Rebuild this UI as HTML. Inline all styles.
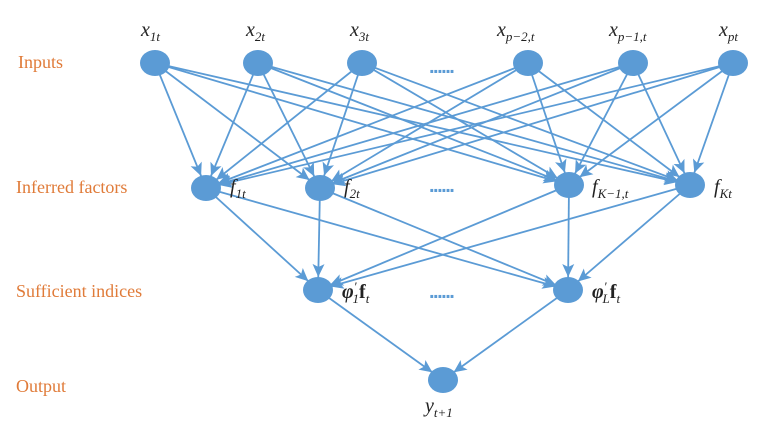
<!DOCTYPE html>
<html><head><meta charset="utf-8"><style>
html,body{margin:0;padding:0;background:#fff;}
svg{display:block;}
.lab{font-family:"Liberation Serif",serif;font-size:18px;fill:#E07B39;}
.m{font-family:"Liberation Serif",serif;font-style:italic;font-size:20px;fill:#222;}
.s{font-size:13px;}
</style></head><body>
<svg width="762" height="426" viewBox="0 0 762 426">
<defs>
<marker id="a" markerUnits="userSpaceOnUse" viewBox="-28 -7 32 14" refX="0" refY="0" markerWidth="32" markerHeight="14" orient="auto" overflow="visible">
<path d="M-26,-6 L-13,0 L-26,6 L-23,0 z" fill="#5B9BD5"/>
</marker>
</defs>
<text class="lab" x="18" y="68">Inputs</text>
<text class="lab" x="16" y="193">Inferred factors</text>
<text class="lab" x="16" y="297">Sufficient indices</text>
<text class="lab" x="16" y="392">Output</text>
<g stroke="#5B9BD5" stroke-width="1.8" fill="none" marker-end="url(#a)">
<path d="M155,63 L206,188"/><path d="M155,63 L320,188"/><path d="M155,63 L569,185"/><path d="M155,63 L690,185"/>
<path d="M258,63 L206,188"/><path d="M258,63 L320,188"/><path d="M258,63 L569,185"/><path d="M258,63 L690,185"/>
<path d="M362,63 L206,188"/><path d="M362,63 L320,188"/><path d="M362,63 L569,185"/><path d="M362,63 L690,185"/>
<path d="M528,63 L206,188"/><path d="M528,63 L320,188"/><path d="M528,63 L569,185"/><path d="M528,63 L690,185"/>
<path d="M633,63 L206,188"/><path d="M633,63 L320,188"/><path d="M633,63 L569,185"/><path d="M633,63 L690,185"/>
<path d="M733,63 L206,188"/><path d="M733,63 L320,188"/><path d="M733,63 L569,185"/><path d="M733,63 L690,185"/>
<path d="M206,188 L318,290"/><path d="M206,188 L568,290"/>
<path d="M320,188 L318,290"/><path d="M320,188 L568,290"/>
<path d="M569,185 L318,290"/><path d="M569,185 L568,290"/>
<path d="M690,185 L318,290"/><path d="M690,185 L568,290"/>
<path d="M318,290 L443,380"/><path d="M568,290 L443,380"/>
</g>
<g fill="#5B9BD5">
<ellipse cx="155" cy="63" rx="15" ry="13"/><ellipse cx="258" cy="63" rx="15" ry="13"/><ellipse cx="362" cy="63" rx="15" ry="13"/>
<ellipse cx="528" cy="63" rx="15" ry="13"/><ellipse cx="633" cy="63" rx="15" ry="13"/><ellipse cx="733" cy="63" rx="15" ry="13"/>
<ellipse cx="206" cy="188" rx="15" ry="13"/><ellipse cx="320" cy="188" rx="15" ry="13"/><ellipse cx="569" cy="185" rx="15" ry="13"/><ellipse cx="690" cy="185" rx="15" ry="13"/>
<ellipse cx="318" cy="290" rx="15" ry="13"/><ellipse cx="568" cy="290" rx="15" ry="13"/>
<ellipse cx="443" cy="380" rx="15" ry="13"/>
</g>
<g fill="#5B9BD5" font-family="Liberation Sans,sans-serif" font-size="20" font-weight="bold">
<text x="429" y="73" letter-spacing="-1.5">......</text>
<text x="429" y="192" letter-spacing="-1.5">......</text>
<text x="429" y="298" letter-spacing="-1.5">......</text>
</g>
<text class="m" x="141" y="36">x<tspan class="s" dy="5">1t</tspan></text>
<text class="m" x="246" y="36">x<tspan class="s" dy="5">2t</tspan></text>
<text class="m" x="350" y="36">x<tspan class="s" dy="5">3t</tspan></text>
<text class="m" x="497" y="36">x<tspan class="s" dy="5">p−2,t</tspan></text>
<text class="m" x="609" y="36">x<tspan class="s" dy="5">p−1,t</tspan></text>
<text class="m" x="719" y="36">x<tspan class="s" dy="5">pt</tspan></text>
<text class="m" x="230" y="193">f<tspan class="s" dy="5">1t</tspan></text>
<text class="m" x="344" y="193">f<tspan class="s" dy="5">2t</tspan></text>
<text class="m" x="592" y="193">f<tspan class="s" dy="5">K−1,t</tspan></text>
<text class="m" x="714" y="193">f<tspan class="s" dy="5">Kt</tspan></text>
<text class="m" x="342" y="298" font-weight="bold">φ<tspan font-weight="normal" class="s" dy="-7">′</tspan><tspan class="s" font-weight="normal" dx="-4" dy="12">1</tspan><tspan font-style="normal" dy="-5">f</tspan><tspan class="s" font-weight="normal" dy="5">t</tspan></text>
<text class="m" x="592" y="298" font-weight="bold">φ<tspan font-weight="normal" class="s" dy="-7">′</tspan><tspan class="s" font-weight="normal" dx="-4" dy="12">L</tspan><tspan font-style="normal" dy="-5">f</tspan><tspan class="s" font-weight="normal" dy="5">t</tspan></text>
<text class="m" x="425" y="412">y<tspan class="s" dy="5">t+1</tspan></text>
</svg>
</body></html>
